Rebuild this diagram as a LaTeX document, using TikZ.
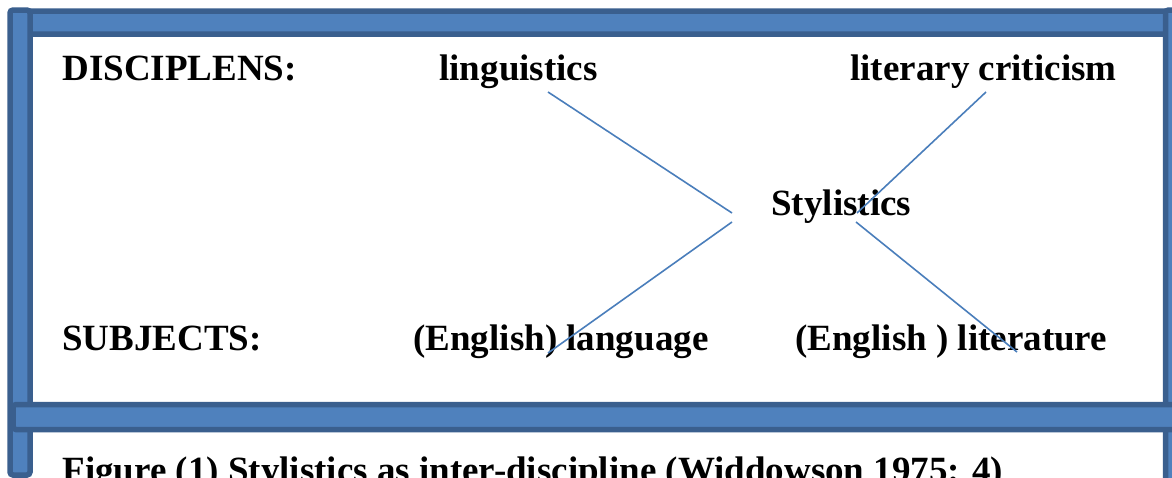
\documentclass[tikz,border=0pt]{standalone}
\usepackage{fontspec}
\setmainfont{Liberation Serif}
\definecolor{barfill}{HTML}{4F81BD}
\definecolor{barline}{HTML}{3A5F8E}
\definecolor{conn}{HTML}{4A7EBB}
\tikzset{
  bar/.style={fill=barfill, draw=barline, line width=2.75pt, rounded corners=1.5pt},
  lbl/.style={anchor=base west, inner sep=0pt, font=\fontsize{18.5pt}{22pt}\selectfont\bfseries},
  link/.style={draw=conn, line width=0.8pt}
}
\begin{document}
\begin{tikzpicture}[x=0.5pt, y=-0.5pt]
\useasboundingbox (0,0) rectangle (1172,477);
\clip (0,0) rectangle (1172,477);
\fill[white] (0,0) rectangle (1172,477);
% frame bars
\path[bar] (20,11) rectangle (1190,34);
\path[bar] (10,10) rectangle (30,475);
\path[bar] (1165.5,10) rectangle (1195,490);
\path[bar] (13,404.5) rectangle (1195,429.5);
% labels
\node[lbl] (disc) at (62,80) {DISCIPLENS:};
\node[lbl] (ling) at (439,80) {linguistics};
\node[lbl] (litc) at (850,80) {literary criticism};
\node[lbl] (styl) at (771,215) {Stylistics};
\node[lbl] (subj) at (62,350) {SUBJECTS:};
\node[lbl] (lang) at (413,350) {(English) language};
\node[lbl] (lit) at (795,350) {(English ) literature};
\node[lbl] (cap) at (62,482) {Figure (1) Stylistics as inter-discipline (Widdowson 1975: 4)};
% connector end points
\coordinate (lingEnd) at (548,92);
\coordinate (stylUL) at (732,213);
\coordinate (stylLL) at (732,222);
\coordinate (langEnd) at (548,353);
\coordinate (litcEnd) at (986,92);
\coordinate (stylUR) at (857,213);
\coordinate (stylLR) at (856,222);
\coordinate (litEnd) at (1017,352);
% connectors
\draw[link] (lingEnd) -- (stylUL);
\draw[link] (stylLL) -- (langEnd);
\draw[link] (litcEnd) -- (stylUR);
\draw[link] (stylLR) -- (litEnd);
\end{tikzpicture}
\end{document}
